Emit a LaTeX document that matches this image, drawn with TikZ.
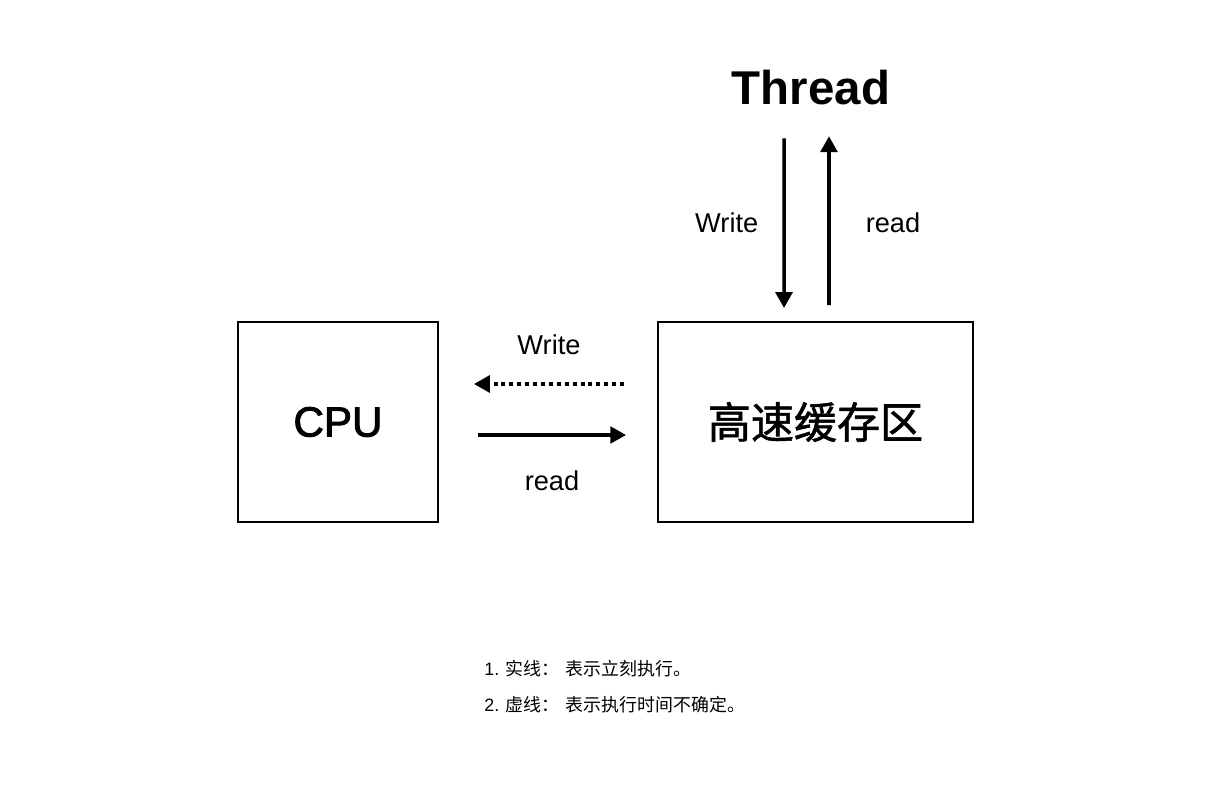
\documentclass[tikz,border=0pt]{standalone}
\usepackage{fontspec}
\setmainfont{Liberation Sans}
\newfontfamily\cjk{Noto Sans CJK SC}
\newfontfamily\medfont[FakeBold=2.2]{Liberation Sans}
\newfontfamily\cjkmed[FakeBold=1.3]{Noto Sans CJK SC}
\usetikzlibrary{arrows.meta,positioning}

\begin{document}
\begin{tikzpicture}[x=0.02cm, y=-0.02cm, >={Triangle[length=9pt,width=9.5pt]},
        box/.style={draw, line width=1.1pt, minimum width=4cm, minimum height=4cm, inner sep=0pt},
        flow/.style={->, line width=2pt},
        lazy/.style={flow, dash pattern=on 2.3pt off 2.2pt},
        lbl/.style={font=\fontsize{15.5}{18}\selectfont, inner sep=0pt},
        note/.style={font=\fontsize{10.2}{12}\selectfont, inner sep=0pt, anchor=west}]
                \useasboundingbox (0,0) rectangle (1218,790);

                \node[box]                        (cpu)    at (338,422)   {\medfont\fontsize{24}{28}\selectfont CPU};
                \node[box, minimum width=6.3cm]   (cache)  at (815.5,422) {\cjkmed\fontsize{24.5}{28}\selectfont 高速缓存区};
                \node[font=\bfseries\fontsize{27}{30}\selectfont, inner sep=0pt] (thread) at (811,88) {Thread};

            % cpu <-> cache
            \draw[lazy] ([xshift=-0.66cm,yshift=0.76cm]cache.west) -- ([xshift=0.7cm,yshift=0.76cm]cpu.east)
                        node[lbl, midway, above=0.54cm] {Write};
            \draw[flow] ([xshift=0.78cm,yshift=-0.26cm]cpu.east) -- ([xshift=-0.62cm,yshift=-0.26cm]cache.west)
                        node[lbl, midway, below=0.68cm] {read};

            % thread <-> cache
            \draw[flow] ([xshift=-0.54cm,yshift=-0.65cm]thread.south) -- ([xshift=-0.63cm,yshift=0.26cm]cache.north)
                        node[lbl, midway, left=0.48cm] {Write};
            \draw[flow] ([xshift=0.27cm,yshift=0.32cm]cache.north) -- ([xshift=0.36cm,yshift=-0.61cm]thread.south)
                        node[lbl, midway, right=0.7cm, yshift=-1pt] {read};

                \node[note] (note1) at (484,669) {1. {\cjk 实线：\hspace{3.5pt}表示立刻执行。}};
                \node[note] (note2) at (484,705) {2. {\cjk 虚线：\hspace{3.5pt}表示执行时间不确定。}};
\end{tikzpicture}
\end{document}
